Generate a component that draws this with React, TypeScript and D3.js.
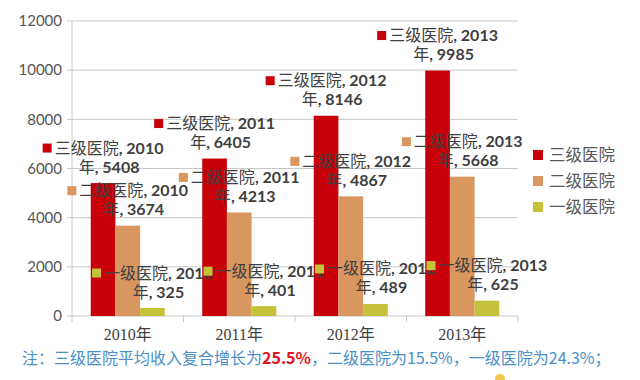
import React, { useEffect, useRef } from "react";
import * as d3 from "d3";

const years = ["2010年", "2011年", "2012年", "2013年"];
const yearNums = ["2010", "2011", "2012", "2013"];
const seriesNames = ["三级医院", "二级医院", "一级医院"];
const tertiary = [5408, 6405, 8146, 9985];
const secondary = [3674, 4213, 4867, 5668];
const primary = [325, 401, 489, 625];
const yTicks = [0, 2000, 4000, 6000, 8000, 10000, 12000];
const colors = ["#C8000A", "#D9965E", "#C3C238"];
const noteParts = [
  { text: "注：三级医院平均收入复合增长为", color: "#4a8fc9", bold: false },
  { text: "25.5%", color: "#e0141e", bold: true },
  { text: "，二级医院为15.5%，一级医院为24.3%；", color: "#4a8fc9", bold: false },
];

const W = 640;
const H = 380;

export default function App() {
  const ref = useRef<SVGSVGElement>(null);

  useEffect(() => {
    const svg = d3.select(ref.current);
    svg.selectAll("*").remove();

    const left = 72, right = 518, top = 21, bottom = 316;
    const y = d3.scaleLinear().domain([0, 12000]).range([bottom, top]);
    const x = d3.scaleBand<string>().domain(years).range([left, right]).paddingInner(0.336).paddingOuter(0.168);
    const xs = d3.scaleBand<string>().domain(seriesNames).range([0, x.bandwidth()]);
    const data = [tertiary, secondary, primary];
    const grid = "#c8c8c8";

    // gridlines
    svg.append("g").selectAll("line").data(yTicks.filter((t) => t > 0)).join("line")
      .attr("x1", left).attr("x2", right)
      .attr("y1", (d) => y(d)).attr("y2", (d) => y(d))
      .attr("stroke", grid).attr("stroke-width", 1);

    // y axis
    svg.append("line").attr("x1", left).attr("x2", left).attr("y1", top).attr("y2", bottom)
      .attr("stroke", grid);
    svg.append("g").selectAll("line").data(yTicks).join("line")
      .attr("x1", left - 5).attr("x2", left)
      .attr("y1", (d) => y(d)).attr("y2", (d) => y(d)).attr("stroke", grid);
    svg.append("g").selectAll("text").data(yTicks).join("text")
      .attr("x", left - 10).attr("y", (d) => y(d)).attr("dy", "0.35em")
      .attr("text-anchor", "end")
      .attr("font-family", "Lato, 'Noto Sans CJK SC', sans-serif")
      .attr("font-size", 15).attr("fill", "#555")
      .text((d) => String(d));

    // x axis
    svg.append("line").attr("x1", left).attr("x2", right).attr("y1", bottom).attr("y2", bottom)
      .attr("stroke", grid);
    const step = x.step();
    const bounds = years.map((_, i) => left + i * step).concat([right]);
    svg.append("g").selectAll("line").data(bounds).join("line")
      .attr("x1", (d) => d).attr("x2", (d) => d)
      .attr("y1", bottom).attr("y2", bottom + 6).attr("stroke", grid);
    svg.append("g").selectAll("text").data(years).join("text")
      .attr("x", (d) => (x(d) as number) + x.bandwidth() / 2)
      .attr("y", 340)
      .attr("text-anchor", "middle")
      .attr("font-family", "'Liberation Serif', 'Noto Sans CJK SC', serif")
      .attr("font-size", 16).attr("fill", "#404040")
      .text((d) => d);

    // bars
    data.forEach((vals, si) => {
      svg.append("g").selectAll("rect").data(vals).join("rect")
        .attr("x", (_, i) => (x(years[i]) as number) + (xs(seriesNames[si]) as number))
        .attr("y", (d) => y(d))
        .attr("width", xs.bandwidth())
        .attr("height", (d) => bottom - y(d))
        .attr("fill", colors[si]);
    });

    // data labels
    const lblFont = "Lato, 'Noto Sans CJK SC', sans-serif";
    data.forEach((vals, si) => {
      vals.forEach((v, i) => {
        const cx = (x(years[i]) as number) + (xs(seriesNames[si]) as number) + xs.bandwidth() / 2;
        const ty = y(v);
        const g = svg.append("g");
        const tcx = cx + 6;
        const l1 = g.append("text")
          .attr("x", tcx).attr("y", ty - 29.5)
          .attr("text-anchor", "middle")
          .attr("font-family", lblFont).attr("font-size", 16).attr("fill", "#404040");
        l1.append("tspan").text(seriesNames[si]);
        l1.append("tspan").attr("font-weight", "bold").text(", " + yearNums[i]);
        const w = (l1.node() as SVGTextElement).getComputedTextLength();
        g.append("rect")
          .attr("x", tcx - w / 2 - 12).attr("y", ty - 35 - 4.5)
          .attr("width", 9).attr("height", 9)
          .attr("fill", colors[si]);
        const l2 = g.append("text")
          .attr("x", tcx).attr("y", ty - 10.5)
          .attr("text-anchor", "middle")
          .attr("font-family", lblFont).attr("font-size", 16).attr("fill", "#404040");
        l2.append("tspan").text("年");
        l2.append("tspan").attr("font-weight", "bold").text(", " + v);
      });
    });

    // legend
    const lg = svg.append("g");
    seriesNames.forEach((s, i) => {
      const ly = 155 + i * 26;
      lg.append("rect").attr("x", 533).attr("y", ly - 5).attr("width", 10).attr("height", 10).attr("fill", colors[i]);
      lg.append("text").attr("x", 549).attr("y", ly).attr("dy", "0.36em")
        .attr("font-family", "'Noto Sans CJK SC', sans-serif")
        .attr("font-size", 16.5).attr("fill", "#595959").text(s);
    });

    // footnote
    const note = svg.append("text").attr("x", 22).attr("y", 364)
      .attr("font-family", "'Noto Sans CJK SC', sans-serif").attr("font-size", 16);
    noteParts.forEach((p) => {
      note.append("tspan").attr("fill", p.color).attr("font-weight", p.bold ? "bold" : "normal").text(p.text);
    });

    // decorative dot
    svg.append("circle").attr("cx", 500).attr("cy", 379).attr("r", 5).attr("fill", "#f2c64a");
  }, []);

  return (
    <svg ref={ref} width={W} height={H} style={{ position: "absolute", left: 0, top: 0, background: "#fff" }} />
  );
}
